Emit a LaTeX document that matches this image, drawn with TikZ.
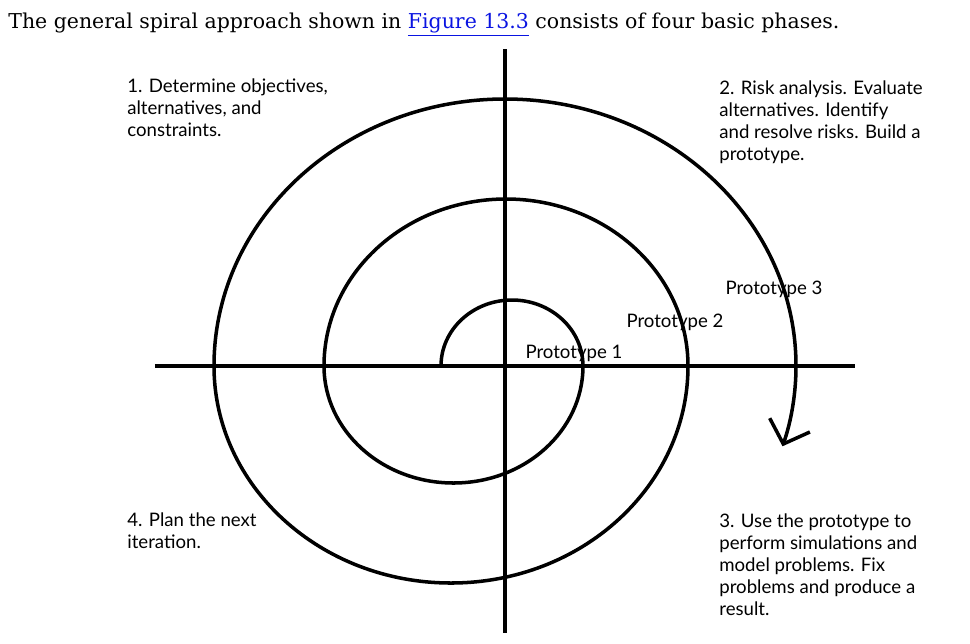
\documentclass[tikz,border=0pt]{standalone}
\usepackage{xcolor}
\usepackage{fontspec}
\usepackage{tikz}
\usetikzlibrary{positioning, arrows.meta, calc}
\newfontfamily\headfont{DejaVu Serif}
\newfontfamily\phasefont{Lato}
\definecolor{linkblue}{RGB}{10,20,225}

\begin{document}
\begin{tikzpicture}[
        phase/.style={anchor=north west, inner sep=0pt, align=left, font=\phasefont\fontsize{10.6}{12.6}\selectfont},
        proto/.style={inner sep=0pt, font=\phasefont\fontsize{10.6}{12.6}\selectfont},
        axis/.style={line width=2.2pt},
        spiral/.style={line width=2pt}
    ]
        \useasboundingbox (-10.1,-5.54) rectangle (9.3,7.32);
        \node[anchor=base west, inner sep=0pt, font=\headfont\fontsize{11.65}{13}\selectfont] (header) at (-9.94,6.76) {The general spiral approach shown in \textcolor{linkblue}{\underline{Figure 13.3}} consists of four basic phases.};
        % axes
        \coordinate (west) at (-7,0);
        \coordinate (east) at (7,0);
        \coordinate (north) at (0,6.34);
        \coordinate (south) at (0,-5.34);
        \draw[axis] (west) -- (east);
        \draw[axis] (north) -- (south);
        % spiral, growing outwards
        \coordinate (start) at (-1.28,0);
        \draw[spiral, -{Straight Barb[length=4mm, width=8.5mm]}] (start)
            arc[start angle=180, end angle=0, x radius=1.42, y radius=1.32]
            arc[start angle=0, end angle=-180, x radius=2.59, y radius=2.34]
            arc[start angle=180, end angle=0, x radius=3.64, y radius=3.34]
            arc[start angle=0, end angle=-180, x radius=4.74, y radius=4.34]
            arc[start angle=180, end angle=0, x radius=5.82, y radius=5.34]
            arc[start angle=0, end angle=-17.5, x radius=5.82, y radius=5.34];
        \node[phase] (plan) at (-7.56,5.76) {1. Determine objectives,\\alternatives, and\\constraints.};
        \node[phase] (risk) at (4.28,5.72) {2. Risk analysis. Evaluate\\alternatives. Identify\\and resolve risks. Build a\\prototype.};
        \node[phase] (use) at (4.28,-2.94) {3. Use the prototype to\\perform simulations and\\model problems. Fix\\problems and produce a\\result.};
        \node[phase] (next) at (-7.56,-2.92) {4. Plan the next\\iteration.};
        \node[proto] (p1) at (1.38,0.26) {Prototype 1};
        \node[proto] (p2) at (3.40,0.88) {Prototype 2};
        \node[proto] (p3) at (5.38,1.54) {Prototype 3};
    \end{tikzpicture}
\end{document}
